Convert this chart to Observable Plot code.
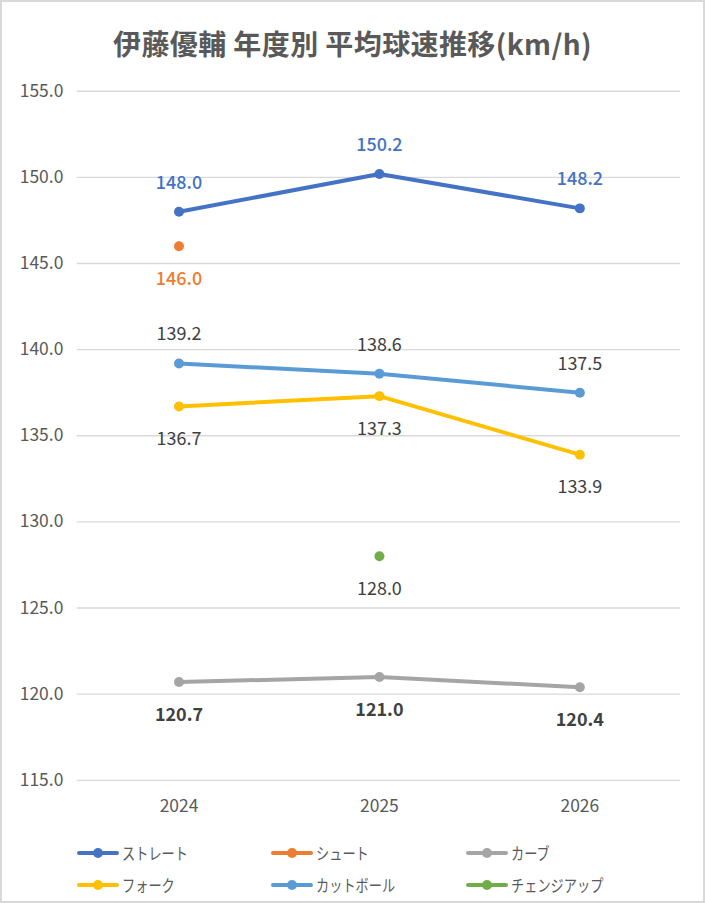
<!DOCTYPE html>
<html><head><meta charset="utf-8">
<script src="https://cdn.jsdelivr.net/npm/d3@7"></script>
<script src="https://cdn.jsdelivr.net/npm/@observablehq/plot@0.6"></script>
<style>
html,body{margin:0;padding:0;background:#fff;}
#wrap{position:relative;width:705px;height:903px;box-sizing:border-box;border:2px solid #d9d9d9;overflow:hidden;font-family:"Noto Sans CJK JP","Noto Sans",sans-serif;}
#title{position:absolute;left:0;top:21px;width:701px;text-align:center;font-size:28px;font-weight:bold;color:#595959;letter-spacing:0.4px;}
#chart{position:absolute;left:-2px;top:-2px;}
#legend{position:absolute;left:0;top:0;width:705px;height:903px;pointer-events:none;}
.li{position:absolute;display:flex;align-items:center;font-size:16.5px;color:#595959;white-space:nowrap;}
.li svg{margin-right:3px;}
.li span{display:inline-block;transform:scaleX(0.8);transform-origin:left center;}
</style>
</head><body>
<div id="wrap">
<div id="chart"></div>
<div id="title">伊藤優輔 年度別 平均球速推移(km/h)</div>
<div id="legend"></div>
</div>
<script>
const years = ["2024","2025","2026"];
const seriesNames = ["ストレート","シュート","カーブ","フォーク","カットボール","チェンジアップ"];
const seriesColors = ["#4472C4","#ED7D31","#A5A5A5","#FFC000","#5B9BD5","#70AD47"];
const straight = [148.0, 150.2, 148.2];
const shoot = [146.0, null, null];
const curve = [120.7, 121.0, 120.4];
const fork = [136.7, 137.3, 133.9];
const cutball = [139.2, 138.6, 137.5];
const changeup = [null, 128.0, null];
const yTicks = [115,120,125,130,135,140,145,150,155];
const labelPos = ["above","below","below","below","above","below"];
const labelColor = ["#4472C4","#ED7D31","#404040","#404040","#404040","#404040"];
const labelWeight = ["500","500","bold","normal","normal","normal"];

const allValues = [straight, shoot, curve, fork, cutball, changeup];
const rows = [];
allValues.forEach((vals, si) => {
  vals.forEach((v, i) => {
    if (v != null) rows.push({series: seriesNames[si], si, year: years[i], value: v});
  });
});

const marks = [
  Plot.gridY(yTicks, {stroke: "#d9d9d9", strokeOpacity: 1, strokeWidth: 1.3})
];
[2,3,4,1,5,0].forEach(si => {
  const d = rows.filter(r => r.si === si);
  marks.push(Plot.line(d, {x: "year", y: "value", stroke: seriesColors[si], strokeWidth: 4, strokeLinecap: "round"}));
  marks.push(Plot.dot(d, {x: "year", y: "value", fill: seriesColors[si], r: 5}));
  marks.push(Plot.text(d, {
    x: "year", y: "value", text: r => r.value.toFixed(1),
    dy: labelPos[si] === "above" ? -29 : 33,
    fill: labelColor[si], fontWeight: labelWeight[si], fontSize: 18
  }));
});
marks.push(Plot.axisY({ticks: yTicks, tickFormat: d => d.toFixed(1), tickSize: 0, tickPadding: 14, fontSize: 17, color: "#595959"}));
marks.push(Plot.axisX({tickSize: 0, tickPadding: 19, fontSize: 17.5, color: "#595959"}));

const chart = Plot.plot({
  width: 705, height: 835,
  marginLeft: 77, marginRight: 23, marginTop: 91, marginBottom: 53,
  style: {fontFamily: '"Noto Sans CJK JP","Noto Sans",sans-serif', color: "#595959", background: "transparent"},
  x: {type: "point", domain: years, padding: 0.5, label: null},
  y: {domain: [115, 155], label: null},
  marks
});
document.getElementById("chart").appendChild(chart);
chart.querySelectorAll("g[aria-label*='axis'] text").forEach(t => {
  t.setAttribute("font-size", "17.5");
  t.style.fontSize = "17.5px";
});

const legend = document.getElementById("legend");
const colX = [77, 271, 466];
const rowY = [852, 884];
seriesNames.forEach((name, i) => {
  const el = document.createElement("div");
  el.className = "li";
  el.style.left = (colX[i % 3] - 2) + "px";
  el.style.top = (rowY[Math.floor(i / 3)] - 2 - 11) + "px";
  el.innerHTML = `<svg width="42" height="22"><line x1="2" y1="11" x2="40" y2="11" stroke="${seriesColors[i]}" stroke-width="4" stroke-linecap="round"/><circle cx="21" cy="11" r="5" fill="${seriesColors[i]}"/></svg><span>${name}</span>`;
  legend.appendChild(el);
});
</script>
</body></html>
